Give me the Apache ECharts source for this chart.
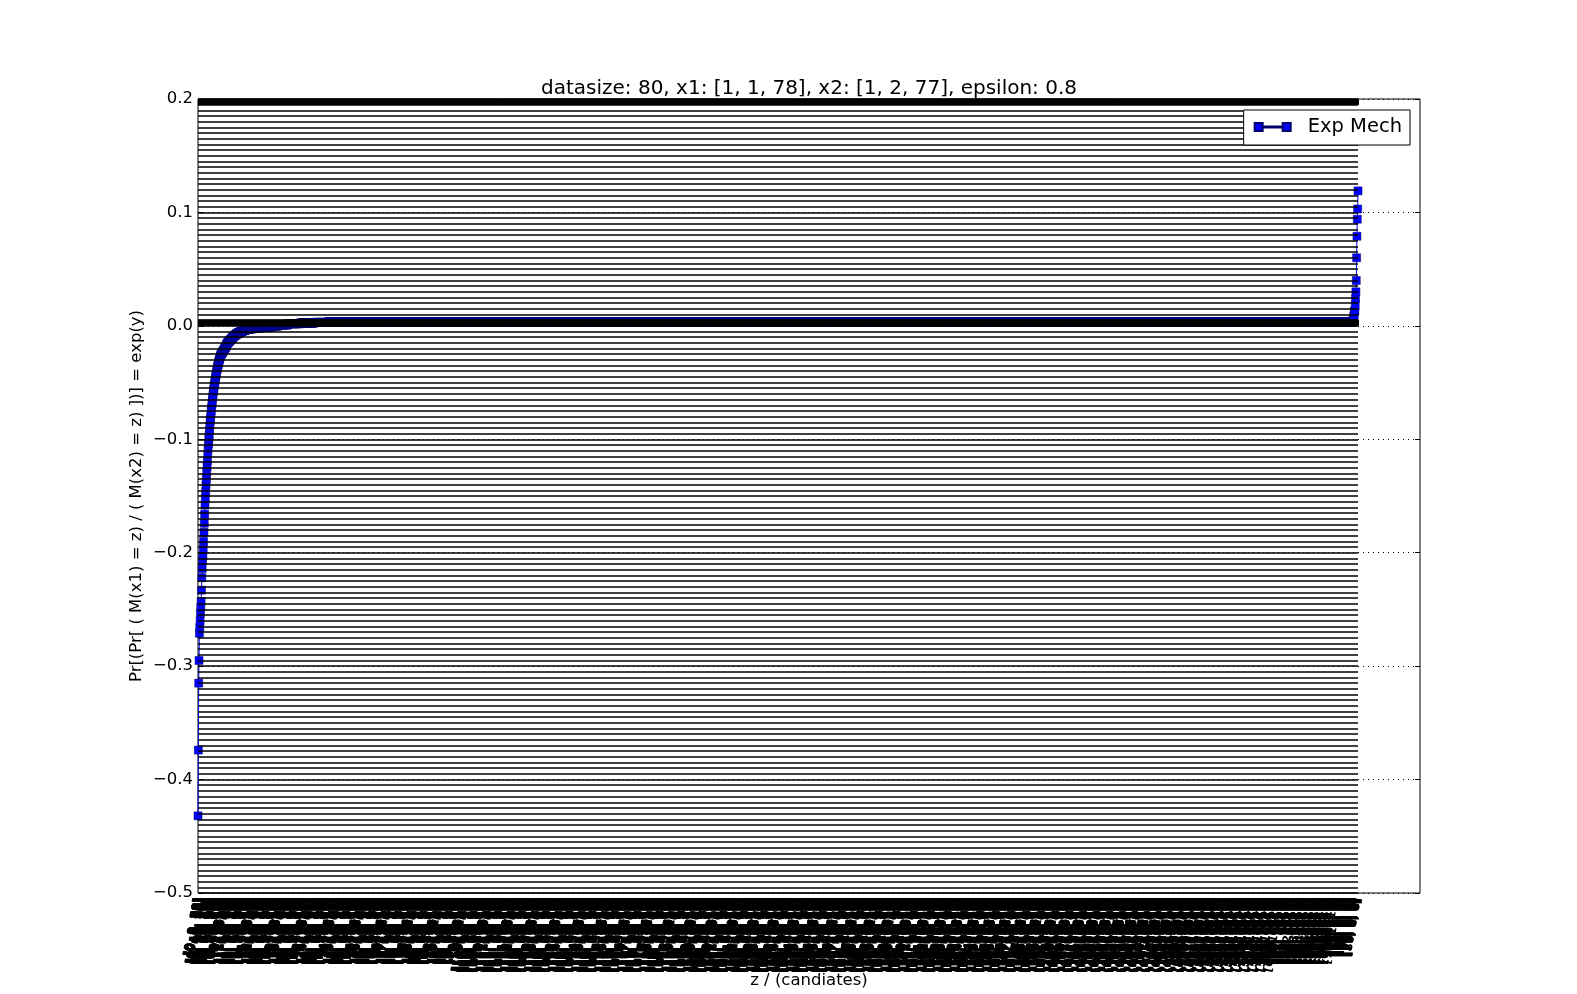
<!DOCTYPE html>
<html>
<head>
<meta charset="utf-8">
<script src="https://cdn.jsdelivr.net/npm/echarts@6/dist/echarts.min.js"></script>
<style>
html, body { margin: 0; padding: 0; background: #fff; }
#chart { width: 1577px; height: 994px; }
</style>
</head>
<body>
<div id="chart"></div>
<script>
// sorted log-ratio y, first the steep head (one candidate each) ...
const headValues = [
  -0.432, -0.374, -0.315, -0.295, -0.271, -0.266, -0.260, -0.253, -0.248, -0.243,
  -0.233, -0.222, -0.214, -0.207, -0.203, -0.197, -0.190, -0.182, -0.174, -0.166,
  -0.158, -0.152, -0.146, -0.140, -0.135, -0.129, -0.124, -0.119, -0.113, -0.108,
  -0.104, -0.100, -0.096, -0.092, -0.088, -0.084, -0.081, -0.078, -0.075, -0.072,
  -0.069, -0.066, -0.063, -0.061, -0.058, -0.056, -0.054, -0.052, -0.050, -0.048,
  -0.046, -0.044, -0.043, -0.041, -0.039, -0.038, -0.036, -0.035, -0.034, -0.032,
  -0.031, -0.030, -0.029, -0.028, -0.027, -0.026
];
// ... then levels shared by several candidates, with their counts
const levelValues = [
  -0.025, -0.024, -0.023, -0.022, -0.021, -0.020, -0.019, -0.018, -0.016,
  -0.015, -0.014, -0.013, -0.012, -0.011, -0.010, -0.009, -0.008,
  -0.007, -0.006, -0.005, -0.004, -0.003, -0.0025, -0.002, -0.0015, -0.001,
  0.000, 0.001, 0.002, 0.0025, 0.003, 0.0035,
  0.006, 0.009, 0.013, 0.018, 0.024, 0.030, 0.040, 0.060, 0.079, 0.094, 0.103, 0.119
];
const levelCounts = [
  2, 2, 2, 2, 2, 2, 2, 2, 2,
  3, 3, 3, 3, 3, 3, 4, 4,
  5, 6, 7, 8, 10, 12, 14, 16, 20,
  22, 28, 35, 40, 40, 2933,
  2, 2, 2, 1, 1, 1, 1, 1, 1, 1, 1, 1
];
const yMin = -0.5;
const yMax = 0.2;
const yStep = 0.1;
const datasize = 80;
const titleText = 'datasize: 80, x1: [1, 1, 78], x2: [1, 2, 77], epsilon: 0.8';
const seriesName = 'Exp Mech';

// candidates z = [a, b, c] with a + b + c = datasize
const candidates = [];
for (let a = 0; a <= datasize; a++) {
  for (let b = 0; b <= datasize - a; b++) {
    candidates.push('[' + a + ', ' + b + ', ' + (datasize - a - b) + ']');
  }
}

const ratios = headValues.slice();
levelValues.forEach((v, k) => {
  for (let n = 0; n < levelCounts[k]; n++) ratios.push(v);
});

const font = 'DejaVu Sans';
const chart = echarts.init(document.getElementById('chart'));
chart.setOption({
  animation: false,
  backgroundColor: '#fff',
  title: {
    text: titleText,
    left: 804,
    top: 74,
    textAlign: 'center',
    textStyle: { fontFamily: font, fontSize: 20, fontWeight: 'normal', color: '#000' }
  },
  legend: {
    data: [seriesName],
    right: 167,
    top: 110,
    padding: [7, 8, 8, 10],
    backgroundColor: '#fff',
    borderColor: '#000',
    borderWidth: 1,
    borderRadius: 0,
    itemWidth: 36,
    itemHeight: 8,
    icon: 'path://M0,0h8v8h-8z M8,3.6h20v0.8h-20z M28,0h8v8h-8z',
    textStyle: { fontFamily: font, fontSize: 19.5, color: '#000', padding: [0, 0, 0, 12] },
    z: 10
  },
  grid: [
    { left: 198, right: 219, top: 99, bottom: 101 },
    { left: 198, right: 157, top: 99, bottom: 101, show: true, borderColor: '#000', borderWidth: 1, backgroundColor: 'transparent' }
  ],
  xAxis: [
    {
      gridIndex: 0, type: 'category', data: candidates, boundaryGap: false, position: 'bottom',
      axisLine: { show: false },
      axisTick: { show: true, inside: true, length: 6, interval: 0, lineStyle: { color: '#000', width: 1 } },
      axisLabel: { interval: 0, rotate: 80, fontFamily: font, fontSize: 11.5, fontWeight: 'bold', color: '#000', margin: 5 },
      splitLine: { show: false },
      z: 6
    },
    {
      gridIndex: 0, type: 'category', data: candidates, boundaryGap: false, position: 'top',
      axisLine: { show: false },
      axisTick: { show: true, inside: true, length: 6, interval: 0, lineStyle: { color: '#000', width: 1 } },
      axisLabel: { show: false },
      splitLine: { show: false },
      z: 6
    },
    {
      gridIndex: 1, type: 'value', min: 0, max: 1, position: 'bottom',
      axisLine: { show: false }, axisTick: { show: false }, axisLabel: { show: false }, splitLine: { show: false },
      name: 'z / (candiates)', nameLocation: 'middle', nameGap: 79,
      nameTextStyle: { fontFamily: font, fontSize: 16.5, color: '#000' }
    }
  ],
  yAxis: [
    {
      gridIndex: 0, type: 'value', min: yMin, max: yMax, interval: 0.005,
      axisLine: { show: false }, axisTick: { show: false }, axisLabel: { show: false },
      splitLine: { show: true, lineStyle: { color: '#000', width: 1.5 } },
      z: 5
    },
    {
      gridIndex: 1, type: 'value', min: yMin, max: yMax, interval: yStep, position: 'left',
      axisLine: { show: false },
      axisTick: { show: true, inside: true, length: 5, lineStyle: { color: '#000' } },
      axisLabel: {
        fontFamily: font, fontSize: 16.5, color: '#000', margin: 5,
        formatter: v => (v < -1e-9 ? '\u2212' : '') + Math.abs(v).toFixed(1)
      },
      splitLine: { show: true, lineStyle: { color: '#000', width: 1, type: [1, 4] } },
      name: 'Pr[(Pr[ ( M(x1) = z) / ( M(x2) = z) ])] = exp(y)',
      nameLocation: 'middle', nameRotate: 90, nameGap: 53, nameMoveOverlap: false,
      nameTextStyle: { fontFamily: font, fontSize: 16.5, color: '#000' },
      z: 7
    },
    {
      gridIndex: 1, type: 'value', min: yMin, max: yMax, interval: yStep, position: 'right',
      axisLine: { show: false },
      axisTick: { show: true, inside: true, length: 5, lineStyle: { color: '#000' } },
      axisLabel: { show: false },
      splitLine: { show: false },
      z: 7
    }
  ],
  series: [
    {
      name: seriesName,
      type: 'line',
      xAxisIndex: 0,
      yAxisIndex: 0,
      data: ratios,
      symbol: 'rect',
      symbolSize: 8,
      showAllSymbol: true,
      sampling: false,
      itemStyle: { color: '#0000ff', borderColor: '#00006a', borderWidth: 0.5 },
      lineStyle: { color: '#0000ff', width: 1 },
      emphasis: { disabled: true }
    }
  ]
});
</script>
</body>
</html>
